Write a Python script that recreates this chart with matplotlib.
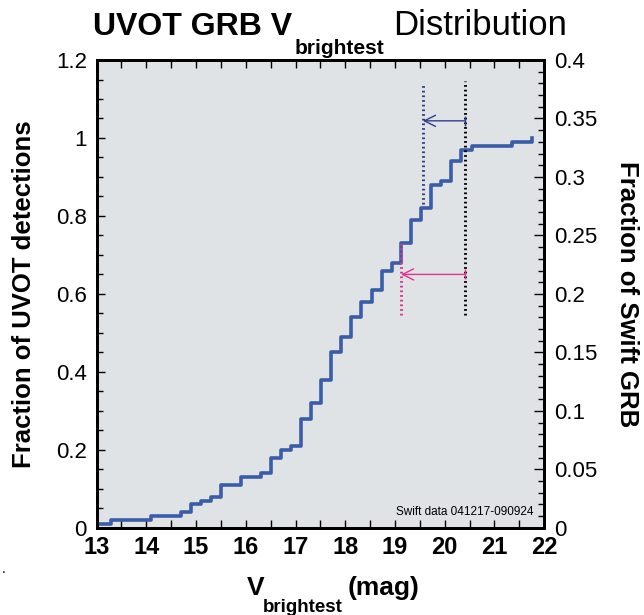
import numpy as np
import matplotlib.pyplot as plt
from matplotlib.ticker import MultipleLocator

plt.rcParams['font.family'] = ['Liberation Sans', 'DejaVu Sans']
plt.rcParams['xtick.direction'] = 'in'
plt.rcParams['ytick.direction'] = 'in'

# cumulative distribution (steps-post: value holds from edge to next edge)
v_edges = [13.06, 13.28, 14.09, 14.69, 14.90, 15.10, 15.30, 15.50, 15.91, 16.31,
           16.51, 16.70, 16.91, 17.12, 17.31, 17.51, 17.72, 17.92, 18.12, 18.32,
           18.53, 18.73, 18.93, 19.12, 19.32, 19.52, 19.73, 19.93, 20.13, 20.33,
           20.54, 21.35, 21.75]
frac = [0.01, 0.02, 0.03, 0.04, 0.06, 0.07, 0.08, 0.11, 0.13, 0.14,
        0.18, 0.20, 0.21, 0.28, 0.32, 0.38, 0.45, 0.49, 0.54, 0.58,
        0.61, 0.66, 0.68, 0.73, 0.79, 0.82, 0.88, 0.89, 0.94, 0.97,
        0.98, 0.99, 1.00]

# limits marked with dotted lines: (x, ymin, ymax)
lim_black = (20.40, 0.545, 1.145)
lim_blue = (19.56, 0.83, 1.14)
lim_pink = (19.12, 0.545, 0.73)
arrow_blue_y = 1.044
arrow_pink_y = 0.650

blue = '#3b5ca8'
dblue = '#2f3d8c'
pink = '#e0338f'

fig = plt.figure(figsize=(6.44, 6.15), dpi=100)
ax = fig.add_axes([0.150, 0.1418, 0.695, 0.7606])
ax.set_facecolor('#dfe3e5')

ax.plot(v_edges, frac, drawstyle='steps-post', color=blue, lw=2.6, zorder=3)

dots = (0, (0.6, 1.0))
ax.vlines(lim_black[0], lim_black[1], lim_black[2], colors='black', linestyles=dots, lw=2.1, zorder=4)
ax.vlines(lim_blue[0], lim_blue[1], lim_blue[2], colors=dblue, linestyles=dots, lw=2.1, zorder=4)
ax.vlines(lim_pink[0], lim_pink[1], lim_pink[2], colors=pink, linestyles=dots, lw=2.1, zorder=4)

ax.annotate('', xy=(lim_blue[0], arrow_blue_y), xytext=(lim_black[0], arrow_blue_y),
            arrowprops=dict(arrowstyle='->', color=dblue, lw=1.0, mutation_scale=20,
                            shrinkA=0, shrinkB=0), zorder=5)
ax.plot(lim_black[0], arrow_blue_y, marker='|', color=dblue, ms=7, mew=1.0, zorder=5)
ax.annotate('', xy=(lim_pink[0], arrow_pink_y), xytext=(lim_black[0], arrow_pink_y),
            arrowprops=dict(arrowstyle='->', color=pink, lw=1.0, mutation_scale=20,
                            shrinkA=0, shrinkB=0), zorder=5)
ax.plot(lim_black[0], arrow_pink_y, marker='|', color=pink, ms=7, mew=1.0, zorder=5)

ax.text(21.78, 0.04, 'Swift data 041217-090924', fontsize=8.5, ha='right', va='center')

ax.set_xlim(13, 22)
ax.set_ylim(0, 1.2)
ax.xaxis.set_minor_locator(MultipleLocator(0.5))
ax.yaxis.set_minor_locator(MultipleLocator(0.05))
ax.set_yticks(np.arange(0, 1.21, 0.2))
ax.set_yticklabels(['0', '0.2', '0.4', '0.6', '0.8', '1', '1.2'], fontsize=16)
ax.set_xticks(np.arange(13, 23, 1))
ax.set_xticklabels([str(i) for i in range(13, 23)], fontsize=17, fontweight='bold')
ax.tick_params(axis='x', which='both', top=True, length=6, width=1, pad=6)
ax.tick_params(axis='y', which='major', length=6, width=1, pad=7)
ax.tick_params(axis='y', which='minor', length=4, width=1)
for s in ax.spines.values():
    s.set_linewidth(2)

ax2 = ax.twinx()
ax2.set_ylim(0, 0.4)
ax2.yaxis.set_minor_locator(MultipleLocator(0.01))
ax2.set_yticks(np.arange(0, 0.41, 0.05))
ax2.set_yticklabels(['0', '0.05', '0.1', '0.15', '0.2', '0.25', '0.3', '0.35', '0.4'], fontsize=16)
ax2.tick_params(axis='y', which='major', length=7, width=1, pad=7)
ax2.tick_params(axis='y', which='minor', length=4, width=1)
for s in ax2.spines.values():
    s.set_linewidth(2)

ax.set_ylabel('Fraction of UVOT detections', fontsize=18.5, fontweight='bold', labelpad=14)
ax2.set_ylabel('Fraction of Swift GRB', fontsize=18.5, fontweight='bold', rotation=270, labelpad=30)

# title with lowered subscript
fig.text(0.1444, 0.943, 'UVOT GRB V', fontsize=23, fontweight='bold', va='baseline')
fig.text(0.458, 0.912, 'brightest', fontsize=15, fontweight='bold', va='baseline')
fig.text(0.610, 0.943, 'Distribution', fontsize=25, va='baseline')

# x axis label with lowered subscript
fig.text(0.3835, 0.0325, 'V', fontsize=19, fontweight='bold', va='baseline')
fig.text(0.408, 0.005, 'brightest', fontsize=13.5, fontweight='bold', va='baseline')
fig.text(0.540, 0.0325, '(mag)', fontsize=19, fontweight='bold', va='baseline')
fig.text(0.002, 0.068, '.', fontsize=10)

plt.savefig('out.png', dpi=100)
plt.close('all')
